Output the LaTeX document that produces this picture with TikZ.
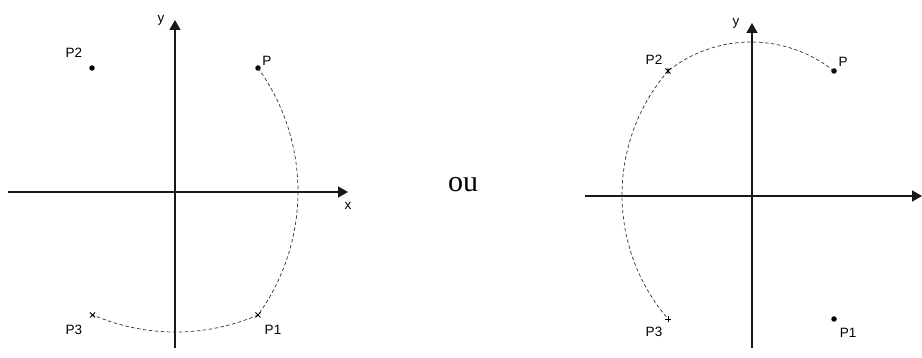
\documentclass[tikz,border=0pt]{standalone}
\usepackage{fontspec}
\setmainfont{Liberation Serif}
\setsansfont{Liberation Sans}
\usetikzlibrary{arrows.meta,calc}
\begin{document}
\begin{tikzpicture}[x=1pt,y=1pt,
  axis/.style={line width=1.4pt,color=black!90,-{Triangle[length=10pt,width=11pt]}},
  arcline/.style={dashed,dash pattern=on 3.5pt off 2.5pt,line width=0.7pt,color=black!80},
  lbl/.style={font=\sffamily\fontsize{13.5}{13.5}\selectfont,inner sep=0pt},
  dotmark/.style={circle,fill=black,inner sep=0pt,minimum size=5.5pt},
  markline/.style={line width=0.8pt}
]
\useasboundingbox (0,0) rectangle (922,358);
% ---------- left diagram ----------
\coordinate (Lxs) at (8,166);
\coordinate (Lxe) at (348,166);
\coordinate (Lys) at (175,10);
\coordinate (Lye) at (175,338);
\draw[axis] (Lxs) -- (Lxe);
\draw[axis] (Lys) -- (Lye);
\node[lbl] (Llx) at (348,152) {x};
\node[lbl] (Lly) at (161,338) {y};

\node[dotmark] (LP) at (258,290) {};
\node[dotmark] (LP2) at (92,290) {};
\coordinate (LP1) at (258,43);
\coordinate (LP3) at (92.5,43);
\draw[arcline] (LP) arc[start angle=35.89,end angle=-35.89,radius=210.65];
\draw[arcline] (LP1) arc[start angle=-66.7,end angle=-113.3,radius=208.7];
\draw[markline] ($(LP1)+(-2.5,-2.5)$) -- ($(LP1)+(2.5,2.5)$) ($(LP1)+(-2.5,2.5)$) -- ($(LP1)+(2.5,-2.5)$);
\draw[markline] ($(LP3)+(-2.5,-2.5)$) -- ($(LP3)+(2.5,2.5)$) ($(LP3)+(-2.5,2.5)$) -- ($(LP3)+(2.5,-2.5)$);

\node[lbl] (LlP) at (267,297) {P};
\node[lbl] (LlP2) at (74,305) {P2};
\node[lbl] (LlP1) at (273,28) {P1};
\node[lbl] (LlP3) at (74,28) {P3};

% ---------- middle ----------
\node[font=\fontsize{30}{30}\selectfont,inner sep=0pt] (ou) at (463,173.5) {ou};

% ---------- right diagram ----------
\coordinate (Rxs) at (585,162);
\coordinate (Rxe) at (922,162);
\coordinate (Rys) at (752,10);
\coordinate (Rye) at (752,335);
\draw[axis] (Rxs) -- (Rxe);
\draw[axis] (Rys) -- (Rye);
\node[lbl] (Rly) at (736,335) {y};

\node[dotmark] (RP) at (834,287) {};
\node[dotmark] (RP1) at (834,39) {};
\coordinate (RP2) at (668,287);
\coordinate (RP3) at (668,39);
\draw[arcline] (RP) arc[start angle=51.5,end angle=128.5,radius=133.3];
\draw[arcline] (RP2) arc[start angle=139.3,end angle=220.7,radius=190.1];
\draw[markline] ($(RP2)+(-2.5,-2.5)$) -- ($(RP2)+(2.5,2.5)$) ($(RP2)+(-2.5,2.5)$) -- ($(RP2)+(2.5,-2.5)$) ($(RP2)+(0,-3)$) -- ($(RP2)+(0,3)$);
\draw[markline] ($(RP3)+(-3,0)$) -- ($(RP3)+(3,0)$) ($(RP3)+(0,-3)$) -- ($(RP3)+(0,3)$);

\node[lbl] (RlP) at (843,296) {P};
\node[lbl] (RlP2) at (654,298) {P2};
\node[lbl] (RlP1) at (848,25) {P1};
\node[lbl] (RlP3) at (654,26) {P3};
\end{tikzpicture}
\end{document}
